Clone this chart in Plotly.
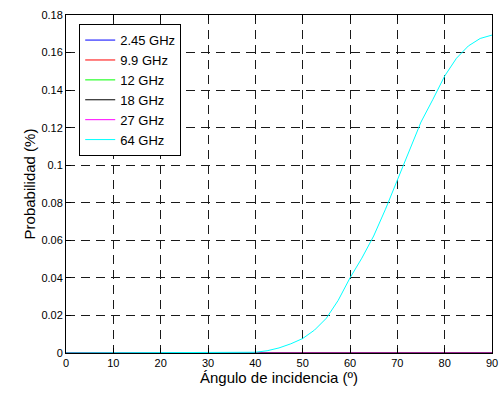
import plotly.graph_objects as go

# Incidence angle (degrees)
angulo = [0, 5, 10, 15, 20, 25, 30, 35, 37.5, 40, 42.5, 45, 47.5, 50, 52.5, 55,
          57.5, 60, 62.5, 65, 67.5, 70, 72.5, 75, 77.5, 80, 82.5, 85, 87.5, 90]

# Probability per frequency
p_2_45 = [0.0] * len(angulo)
p_9_9 = [0.0] * len(angulo)
p_12 = [0.0] * len(angulo)
p_18 = [0.0] * len(angulo)
p_27 = [0.0] * len(angulo)
p_64 = [0.0, 0.0, 0.0, 0.0, 0.0, 0.0, 0.00002, 0.00006, 0.00012, 0.0004, 0.0012,
        0.0027, 0.0049, 0.0077, 0.0122, 0.0185, 0.028, 0.040, 0.0505, 0.0623,
        0.0766, 0.092, 0.107, 0.123, 0.135, 0.1475, 0.157, 0.1635, 0.1675, 0.1693]

series = [
    ("2.45 GHz", p_2_45, "#0000ff"),
    ("9.9 GHz", p_9_9, "#ff0000"),
    ("12 GHz", p_12, "#00ff00"),
    ("18 GHz", p_18, "#000000"),
    ("27 GHz", p_27, "#ff00ff"),
    ("64 GHz", p_64, "#00ffff"),
]

x_ticks = list(range(0, 91, 10))
y_ticks = [0, 0.02, 0.04, 0.06, 0.08, 0.1, 0.12, 0.14, 0.16, 0.18]
y_tick_text = ["0", "0.02", "0.04", "0.06", "0.08", "0.1", "0.12", "0.14", "0.16", "0.18"]

fig = go.Figure()
for name, vals, color in series:
    fig.add_trace(go.Scatter(x=angulo, y=vals, mode="lines", name=name,
                             line=dict(color=color, width=1)))

font_family = "Liberation Sans, Arial, sans-serif"
axis_common = dict(
    showline=True, linecolor="black", linewidth=1, mirror="ticks",
    ticks="inside", ticklen=5, tickcolor="black", tickwidth=1,
    showgrid=True, gridcolor="#1a1a1a", gridwidth=1, griddash="9px,6px",
    zeroline=False, automargin=False,
    tickfont=dict(family=font_family, size=11, color="black"),
)

fig.update_layout(
    width=500, height=394,
    margin=dict(l=66, r=8, t=15, b=41),
    paper_bgcolor="white", plot_bgcolor="white",
    font=dict(family=font_family, color="black"),
    showlegend=True,
    legend=dict(x=0.031, y=0.973, xanchor="left", yanchor="top",
                bgcolor="white", bordercolor="black", borderwidth=1,
                font=dict(family=font_family, size=13, color="black"),
                tracegroupgap=0),
    xaxis=dict(range=[0, 90], tickvals=x_ticks,
               title=dict(text="Ángulo de incidencia (º)", standoff=3,
                          font=dict(family=font_family, size=15)),
               **axis_common),
    yaxis=dict(range=[0, 0.18], tickvals=y_ticks, ticktext=y_tick_text,
               title=dict(text="Probabilidad (%)", standoff=2,
                          font=dict(family=font_family, size=15)),
               **axis_common),
)

fig.write_html("out.html")
